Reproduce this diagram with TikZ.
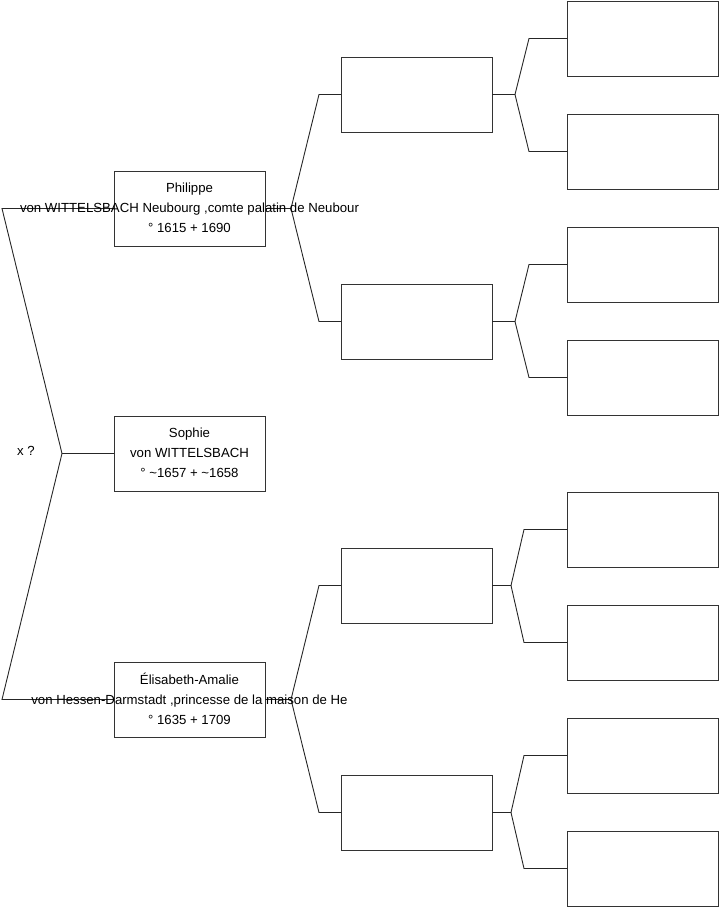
\documentclass[tikz,border=0pt]{standalone}
\usepackage{fontspec}
\setmainfont{Liberation Sans}
\begin{document}
\begin{tikzpicture}[x=1pt,y=-1pt,
  pbox/.style={draw=black!80,line width=0.9pt,minimum width=151pt,minimum height=75pt,inner sep=0pt,outer sep=0pt},
  ptext/.style={align=center,font=\fontsize{13.2}{20}\selectfont,inner sep=0pt},
  conn/.style={draw=black!85,line width=0.9pt}]
\useasboundingbox (0,0) rectangle (719,908);
% level 1
\node[pbox] (p) at (189.5,208.5) {};
\node[pbox] (s) at (189.5,453.5) {};
\node[pbox] (e) at (189.5,699.5) {};
% level 2
\node[pbox] (pf) at (416.5,94.5) {};
\node[pbox] (pm) at (416.5,321.5) {};
\node[pbox] (ef) at (416.5,585.5) {};
\node[pbox] (em) at (416.5,812.5) {};
% level 3
\node[pbox] (pff) at (642.75,38.5) {};
\node[pbox] (pfm) at (642.75,151.5) {};
\node[pbox] (pmf) at (642.75,264.5) {};
\node[pbox] (pmm) at (642.75,377.5) {};
\node[pbox] (eff) at (642.75,529.5) {};
\node[pbox] (efm) at (642.75,642.5) {};
\node[pbox] (emf) at (642.75,755.5) {};
\node[pbox] (emm) at (642.75,868.5) {};
% fork coordinates
\coordinate (f0) at (62,453.5);
\coordinate (f0a) at (2,208.5);
\coordinate (f0b) at (2,699.5);
\coordinate (fp) at (291,208.5);
\coordinate (fpa) at (319,94.5);
\coordinate (fpb) at (319,321.5);
\coordinate (fe) at (291,699.5);
\coordinate (fea) at (319,585.5);
\coordinate (feb) at (319,812.5);
\coordinate (fpf) at (515,94.5);
\coordinate (fpfa) at (529,38.5);
\coordinate (fpfb) at (529,151.5);
\coordinate (fpm) at (515,321.5);
\coordinate (fpma) at (529,264.5);
\coordinate (fpmb) at (529,377.5);
\coordinate (fef) at (511,585.5);
\coordinate (fefa) at (524,529.5);
\coordinate (fefb) at (524,642.5);
\coordinate (fem) at (511,812.5);
\coordinate (fema) at (524,755.5);
\coordinate (femb) at (524,868.5);
% connectors
\draw[conn] (s.west) -- (f0);
\draw[conn] (p.west) -- (f0a) -- (f0) -- (f0b) -- (e.west);
\draw[conn] (p.east) -- (fp);
\draw[conn] (pf.west) -- (fpa) -- (fp) -- (fpb) -- (pm.west);
\draw[conn] (e.east) -- (fe);
\draw[conn] (ef.west) -- (fea) -- (fe) -- (feb) -- (em.west);
\draw[conn] (pf.east) -- (fpf);
\draw[conn] (pff.west) -- (fpfa) -- (fpf) -- (fpfb) -- (pfm.west);
\draw[conn] (pm.east) -- (fpm);
\draw[conn] (pmf.west) -- (fpma) -- (fpm) -- (fpmb) -- (pmm.west);
\draw[conn] (ef.east) -- (fef);
\draw[conn] (eff.west) -- (fefa) -- (fef) -- (fefb) -- (efm.west);
\draw[conn] (em.east) -- (fem);
\draw[conn] (emf.west) -- (fema) -- (fem) -- (femb) -- (emm.west);
% texts
\node[ptext] (pt) at ([yshift=1pt]p.center) {Philippe\\von WITTELSBACH Neubourg ,comte palatin de Neubour\\° 1615 + 1690};
\node[ptext] (st) at ([yshift=1pt]s.center) {Sophie\\von WITTELSBACH\\° \textasciitilde1657 + \textasciitilde1658};
\node[ptext] (et) at ([yshift=1pt]e.center) {Élisabeth-Amalie\\von Hessen-Darmstadt ,princesse de la maison de He\\° 1635 + 1709};
\node[ptext] (x) at (26,451) {x ?};
\end{tikzpicture}
\end{document}
